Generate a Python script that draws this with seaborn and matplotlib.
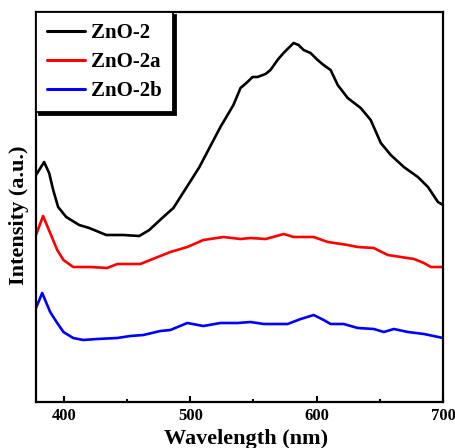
import matplotlib
matplotlib.use("Agg")
import matplotlib.pyplot as plt
import seaborn as sns
import pandas as pd
from matplotlib.ticker import MultipleLocator, NullLocator

# Photoluminescence spectra (arbitrary intensity units)
wl_2 = [378, 380.5, 384.4, 388.4, 391.6, 395.5, 401.9, 412.2, 420.1, 433.6,
        447, 459.7, 467.6, 478.7, 486.7, 499.3, 507.3, 516, 523.9, 534.2,
        539.8, 545.3, 549.3, 553.2, 559.6, 563.5, 569.1, 573.8, 577.8, 581.8,
        585.7, 589.7, 595.2, 600.8, 605.5, 611.1, 616.7, 624.6, 634.9, 642.8,
        650.8, 658.7, 669, 680.1, 688.1, 696, 700]
int_2 = [227, 232, 240, 229, 212, 195, 185, 177, 174, 167,
         167, 166, 172, 185, 194, 219, 235, 256, 275, 297,
         314, 320, 325, 325, 328, 332, 342, 349, 354, 359,
         357, 352, 349, 342, 337, 332, 317, 304, 294, 282,
         259, 247, 235, 225, 215, 200, 197]

wl_2a = [378, 383.6, 389.2, 394.8, 399.7, 407.4, 420.8, 434.3, 442.3, 460.5,
         468.4, 484.3, 497.7, 510.4, 526.3, 539.8, 547.7, 559.7, 574, 581.8,
         597.7, 608.8, 624.6, 632.5, 645.2, 656.3, 666.6, 677, 684.9, 690.4, 700]
int_2a = [167, 186, 169, 152, 142, 135, 135, 134, 138, 138,
          142, 150, 155, 162, 165, 163, 164, 163, 168, 165,
          165, 160, 157, 155, 154, 147, 145, 143, 139, 135, 135]

wl_2b = [378, 382.9, 389.2, 394.8, 399.7, 407.4, 415.3, 426.4, 442.3, 452.6,
         462.9, 476.4, 484.3, 497.7, 510.4, 523.9, 537.4, 547.7, 558.1, 577.1,
         587.4, 597.7, 605.6, 611.1, 621.4, 632.5, 645.2, 653.2, 661.1, 672.2,
         684.9, 700]
int_2b = [94, 109, 90, 79, 70, 64, 62, 63, 64, 66,
          67, 71, 72, 79, 76, 79, 79, 80, 78, 78,
          83, 87, 82, 78, 78, 74, 73, 70, 73, 70,
          68, 64]

labels = ["ZnO-2", "ZnO-2a", "ZnO-2b"]
colors = ["black", "red", "blue"]

df = pd.concat([
    pd.DataFrame({"Wavelength": wl_2, "Intensity": int_2, "Sample": labels[0]}),
    pd.DataFrame({"Wavelength": wl_2a, "Intensity": int_2a, "Sample": labels[1]}),
    pd.DataFrame({"Wavelength": wl_2b, "Intensity": int_2b, "Sample": labels[2]}),
])

sns.set_theme(style="white")
plt.rcParams["font.family"] = ["Liberation Serif", "DejaVu Serif"]
plt.rcParams["font.weight"] = "bold"
plt.rcParams["text.color"] = "black"
plt.rcParams["axes.labelcolor"] = "black"
plt.rcParams["xtick.color"] = "black"

fig = plt.figure(figsize=(4.55, 4.48), dpi=100)
ax = fig.add_axes([36 / 455, 46 / 448, 407 / 455, 390 / 448])

sns.lineplot(data=df, x="Wavelength", y="Intensity", hue="Sample",
             palette=dict(zip(labels, colors)), linewidth=1.9, ax=ax,
             sort=False, estimator=None)

ax.set_xlim(378, 700)
ax.set_ylim(0, 390)

for s in ax.spines.values():
    s.set_color("black")
    s.set_linewidth(1.6)

ax.xaxis.set_major_locator(MultipleLocator(100))
ax.xaxis.set_minor_locator(MultipleLocator(50))
ax.yaxis.set_major_locator(NullLocator())
ax.tick_params(axis="x", which="major", direction="in", length=4, width=1.5,
               bottom=True, top=False, labelsize=12, pad=4, colors="black")
ax.tick_params(axis="x", which="minor", direction="in", length=2.5, width=1.5,
               bottom=True, top=False)
for t in ax.get_xticklabels():
    t.set_fontweight("bold")

ax.set_xlabel("Wavelength (nm)", fontsize=16, fontweight="bold", color="black")
ax.set_ylabel("Intensity (a.u.)", fontsize=16, fontweight="bold", color="black")
ax.xaxis.set_label_coords(0.517, -0.068)
ax.yaxis.set_label_coords(-0.017, 0.48)

handles, _ = ax.get_legend_handles_labels()
leg = ax.legend(handles=handles, labels=labels, loc="upper left",
                bbox_to_anchor=(0, 1), borderaxespad=0, fancybox=False,
                shadow={"color": "black", "alpha": 1}, frameon=True,
                prop={"size": 15, "weight": "bold"}, handlelength=1.8,
                handletextpad=0.3, labelspacing=0.42, borderpad=0.55)
leg.get_frame().set_edgecolor("black")
leg.get_frame().set_linewidth(1.3)
leg.get_frame().set_alpha(1)
for text in leg.get_texts():
    text.set_color("black")
for line in leg.get_lines():
    line.set_linewidth(2.2)

fig.savefig("out.png", dpi=100)
